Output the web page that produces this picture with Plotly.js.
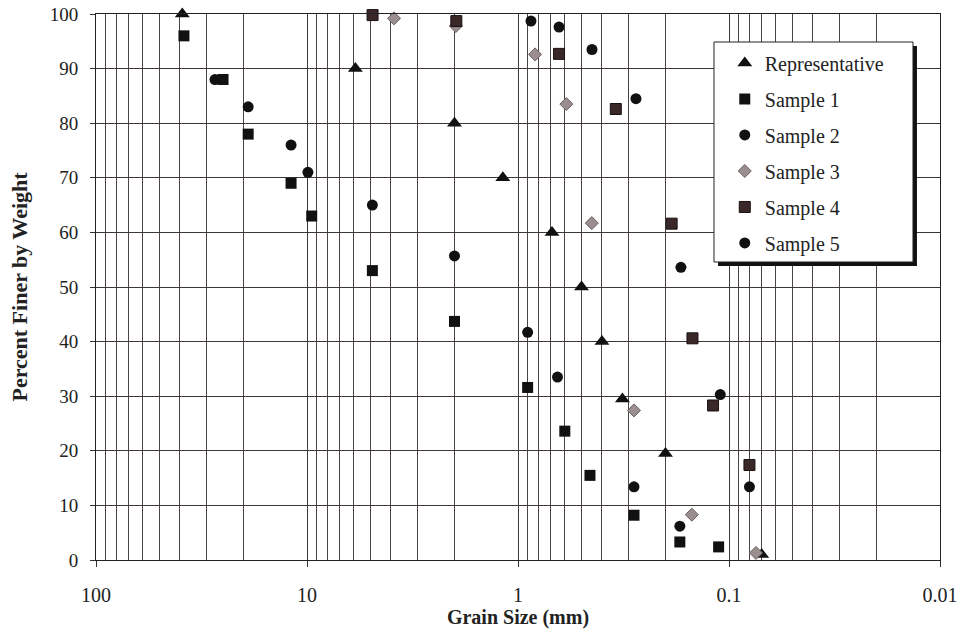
<!DOCTYPE html>
<html>
<head>
<meta charset="utf-8">
<script src="https://cdn.plot.ly/plotly-3.0.1.min.js"></script>
<style>html,body{margin:0;padding:0;background:#fff;}#chart{width:963px;height:638px;}</style>
</head>
<body>
<div id="chart"></div>
<script>
// Grain size (mm) and percent finer by weight
const repSize = [39, 5.9, 2.0, 1.18, 0.69, 0.50, 0.40, 0.32, 0.20, 0.070];
const repPct  = [100, 90, 80, 70, 60, 50, 40, 29.5, 19.5, 1];

const s1Size = [38.3, 25, 19, 11.9, 9.5, 4.9, 2.0, 0.9, 0.6, 0.456, 0.282, 0.171, 0.112];
const s1Pct  = [96, 88, 78, 69, 63, 53, 43.7, 31.6, 23.6, 15.5, 8.2, 3.3, 2.4];

const s2Size = [27.3, 19, 11.9, 9.9, 4.9, 2.0, 0.9, 0.65, 0.282, 0.171];
const s2Pct  = [88, 83, 76, 71, 65, 55.7, 41.7, 33.5, 13.4, 6.2];

const s3Size = [3.87, 1.97, 0.83, 0.59, 0.447, 0.282, 0.150, 0.0745];
const s3Pct  = [99.2, 97.8, 92.6, 83.5, 61.7, 27.4, 8.3, 1.3];

const s4Size = [4.89, 1.96, 0.639, 0.344, 0.187, 0.149, 0.119, 0.080];
const s4Pct  = [99.8, 98.7, 92.7, 82.6, 61.6, 40.6, 28.3, 17.4];

const s5Size = [0.868, 0.639, 0.446, 0.276, 0.169, 0.110, 0.080];
const s5Pct  = [98.7, 97.6, 93.5, 84.5, 53.6, 30.3, 13.4];

const seriesNames = ['Representative', 'Sample 1', 'Sample 2', 'Sample 3', 'Sample 4', 'Sample 5'];
const xTickVals = [100, 10, 1, 0.1, 0.01];
const xTickText = ['100', '10', '1', '0.1', '0.01'];
const yTickVals = [0, 10, 20, 30, 40, 50, 60, 70, 80, 90, 100];

const minorVals = [];
[10, 1, 0.1, 0.01].forEach(d => { for (let k = 2; k <= 9; k++) minorVals.push(d * k); });

const serif = 'Liberation Serif, Times New Roman, serif';
const nb = '\u00a0';

function tr(i, xs, ys, marker) {
  return {
    type: 'scatter', mode: 'markers', name: seriesNames[i], legendgroup: 'g' + i,
    x: xs, y: ys, marker: marker, cliponaxis: false
  };
}

const data = [
  tr(0, repSize, repPct, {symbol: 'triangle-up', size: 13, color: '#111'}),
  tr(1, s1Size, s1Pct, {symbol: 'square', size: 11, color: '#111'}),
  tr(2, s2Size, s2Pct, {symbol: 'circle', size: 11, color: '#111'}),
  tr(3, s3Size, s3Pct, {symbol: 'diamond', size: 10, color: '#9a8e8e', line: {color: '#6a5e5e', width: 1}}),
  tr(4, s4Size, s4Pct, {symbol: 'square', size: 11, color: '#3a2828', line: {color: '#1a1010', width: 1}}),
  tr(5, s5Size, s5Pct, {symbol: 'circle', size: 11, color: '#111'})
];

const layout = {
  width: 963, height: 638,
  margin: {l: 96, r: 23, t: 14, b: 78},
  paper_bgcolor: '#fff', plot_bgcolor: '#fff',
  font: {family: serif, color: '#222', size: 18},
  showlegend: true,
  legend: {
    x: 0.745, y: 0.946, xanchor: 'left', yanchor: 'top',
    bgcolor: 'rgba(0,0,0,0)', borderwidth: 0,
    traceorder: 'grouped', tracegroupgap: 7,
    font: {family: serif, size: 20, color: '#222'}
  },
  xaxis: {
    type: 'log', range: [2, -2], autorange: false,
    tickmode: 'array', tickvals: xTickVals, ticktext: xTickText,
    ticks: 'outside', ticklen: 6, tickcolor: '#333', ticklabelstandoff: 11,
    showgrid: true, gridcolor: '#3f3a3a', gridwidth: 1,
    minor: {tickmode: 'array', tickvals: minorVals, showgrid: true, gridcolor: '#4a4444', gridwidth: 1, ticks: ''},
    showline: true, linecolor: '#222', linewidth: 1, mirror: true,
    zeroline: false,
    tickfont: {family: serif, size: 20, color: '#222'},
    title: {text: '<b>Grain Size (mm)</b>' + nb.repeat(9), font: {family: serif, size: 20, color: '#222'}, standoff: 4}
  },
  yaxis: {
    range: [0, 100], autorange: false,
    tickmode: 'array', tickvals: yTickVals,
    ticks: 'outside', ticklen: 5, tickcolor: '#333', ticklabelstandoff: 8,
    showgrid: true, gridcolor: '#3f3636', gridwidth: 1,
    showline: true, linecolor: '#222', linewidth: 1, mirror: true,
    zeroline: false,
    tickfont: {family: serif, size: 19, color: '#222'},
    title: {text: '<b>Percent Finer by Weight</b>', font: {family: serif, size: 22, color: '#222'}, standoff: 16}
  },
  shapes: [
    {type: 'rect', xref: 'paper', yref: 'paper', layer: 'above',
     x0: 0.7370, x1: 0.9727, y0: 0.5385, y1: 0.9414,
     fillcolor: '#111', line: {width: 0}},
    {type: 'rect', xref: 'paper', yref: 'paper', layer: 'above',
     x0: 0.7322, x1: 0.9680, y0: 0.5458, y1: 0.9487,
     fillcolor: '#fff', line: {color: '#222', width: 1}}
  ]
};

Plotly.newPlot('chart', data, layout, {displayModeBar: false, staticPlot: true});
</script>
</body>
</html>
